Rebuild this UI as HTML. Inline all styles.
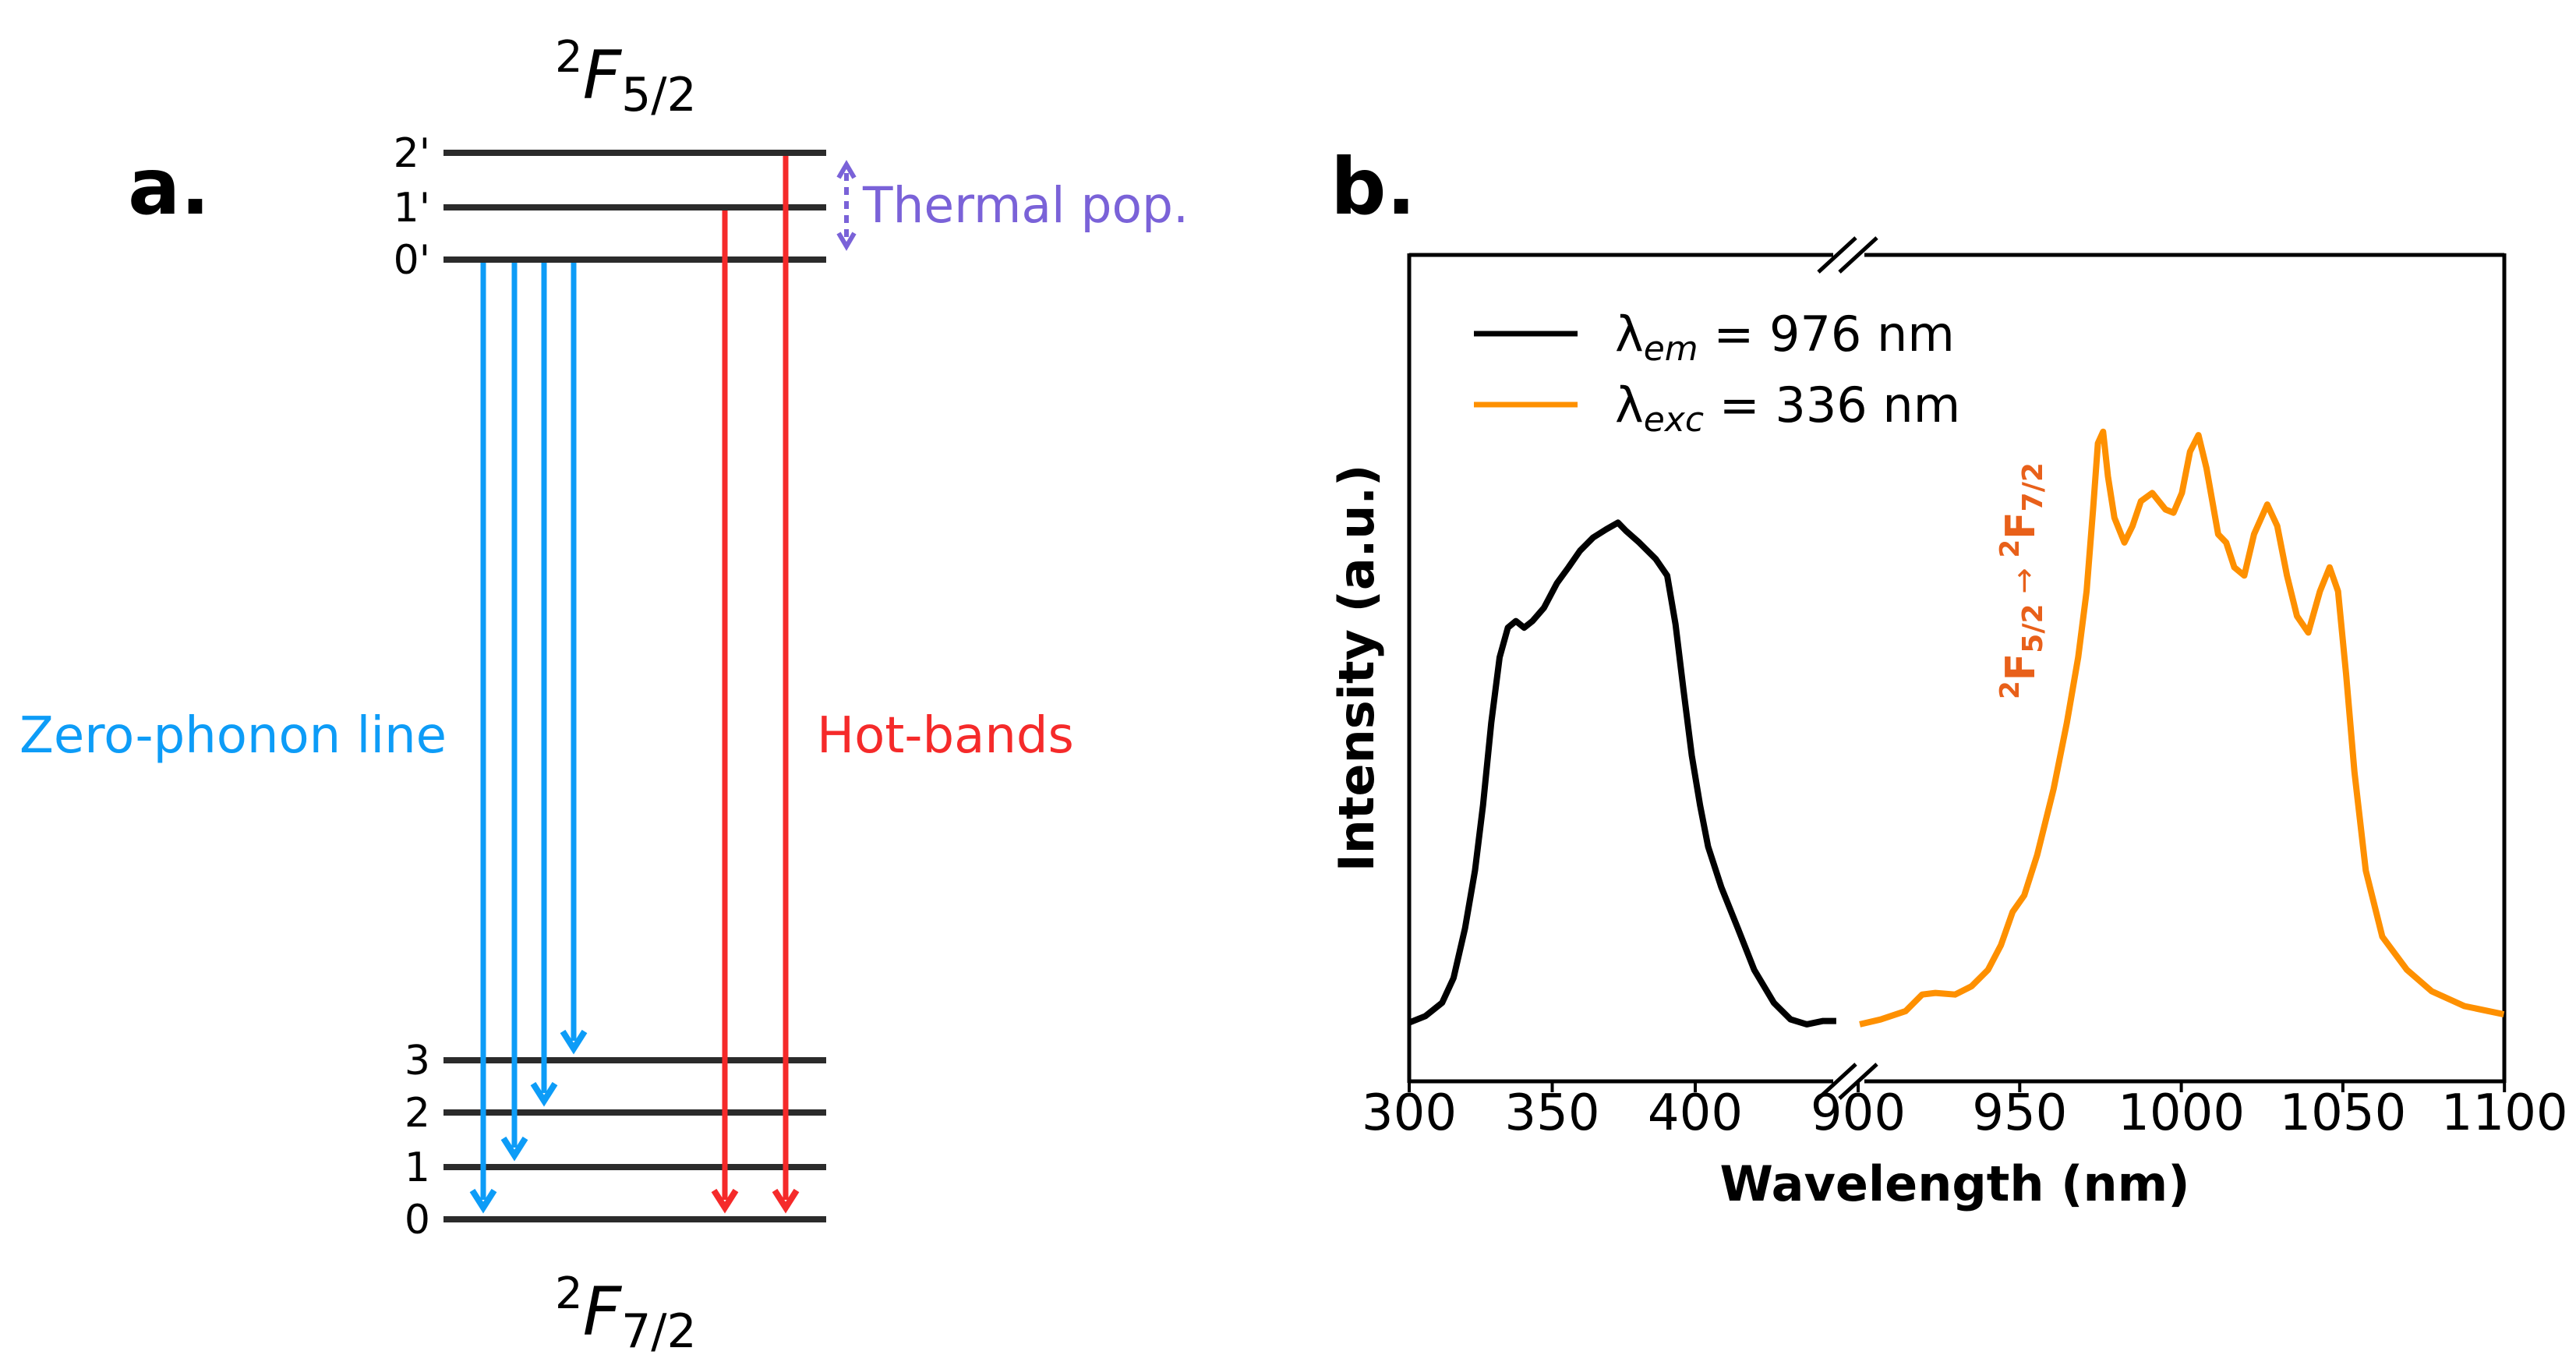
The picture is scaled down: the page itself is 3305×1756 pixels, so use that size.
<!DOCTYPE html>
<html><head><meta charset="utf-8"><style>
html,body{margin:0;padding:0;background:#fff}
svg{display:block}
text{font-family:"DejaVu Sans","Liberation Sans",sans-serif}
</style></head><body>
<svg id="fig" width="3305" height="1756" viewBox="0 0 3305 1756" xmlns="http://www.w3.org/2000/svg">
<g id="panelA">
  <text x="164" y="274" font-size="100" font-weight="bold">a.</text>
  <text x="712" y="126" font-size="86" font-style="italic"><tspan font-size="56" dy="-34" font-style="normal">2</tspan><tspan dy="34">F</tspan><tspan font-size="60" dy="16" font-style="normal">5/2</tspan></text>
  <text x="712" y="1712" font-size="86" font-style="italic"><tspan font-size="56" dy="-34" font-style="normal">2</tspan><tspan dy="34">F</tspan><tspan font-size="60" dy="16" font-style="normal">7/2</tspan></text>
  <text x="25" y="965" font-size="64" fill="#0d9cf7">Zero-phonon line</text>
  <text x="1048" y="965" font-size="64" fill="#f52a2a">Hot-bands</text>
  <text x="1107" y="285" font-size="63" fill="#7a62d8">Thermal pop.</text>
</g>
<g id="panelB">
  <text x="1707" y="274" font-size="100" font-weight="bold">b.</text>
  <text transform="translate(1762,857) rotate(-90)" text-anchor="middle" font-size="62" font-weight="bold">Intensity (a.u.)</text>
  <text x="2508" y="1540" text-anchor="middle" font-size="62" font-weight="bold">Wavelength (nm)</text>
  <text transform="translate(2610,745) rotate(-90)" text-anchor="middle" font-size="52" font-weight="bold" fill="#e8601a"><tspan font-size="34" dy="-20">2</tspan><tspan dy="20">F</tspan><tspan font-size="36" dy="10">5/2</tspan><tspan dy="-10" font-weight="normal" font-size="40"> → </tspan><tspan font-size="34" dy="-20">2</tspan><tspan dy="20">F</tspan><tspan font-size="36" dy="10">7/2</tspan></text>
  <line x1="1891" y1="428" x2="2024" y2="428" stroke="#000" stroke-width="7"/>
  <line x1="1891" y1="519" x2="2024" y2="519" stroke="#fe9000" stroke-width="7"/>
  <text x="2072" y="450" font-size="62">λ<tspan font-size="44" font-style="italic" dy="12">em</tspan><tspan dy="-12"> = 976 nm</tspan></text>
  <text x="2072" y="541" font-size="62">λ<tspan font-size="44" font-style="italic" dy="12">exc</tspan><tspan dy="-12"> = 336 nm</tspan></text>
</g>
</svg>
<script>
const levelLabels = ["0","1","2","3","0'","1'","2'"];
const levelY = [1564,1497,1427,1360,333,266,196];
const zplTargets = [0,1,2,3];
const hotSources = [5,6];

const emNm = [300,305.7,311.5,315.5,319.5,323,325.8,328.7,331.6,334.5,337.3,340.2,343.1,347.1,351.7,355.7,359.7,364.3,368.9,373,375.8,380.4,386.2,390.2,393.1,395.9,398.8,401.7,404.5,409.1,414.9,420.6,427.5,433.3,439,444.7,449.3];
const emInt = [0.071,0.079,0.095,0.125,0.185,0.255,0.334,0.434,0.513,0.549,0.557,0.549,0.557,0.573,0.603,0.622,0.642,0.658,0.668,0.676,0.666,0.652,0.632,0.612,0.553,0.473,0.394,0.334,0.284,0.235,0.185,0.135,0.095,0.075,0.069,0.073,0.073];
const excNm = [900.5,907.1,914.7,919.8,923.9,930,935.1,940.2,944.2,947.8,951.4,955.4,960.5,964.6,968.1,970.7,972.7,974.2,975.8,977.3,979.3,982.4,984.9,987.5,991,995.1,997.6,1000.2,1002.7,1005.3,1007.8,1011.4,1013.9,1016.4,1019.5,1022.5,1026.6,1029.7,1032.7,1035.8,1039.3,1042.9,1045.9,1048.5,1051,1053.6,1057.1,1062.2,1069.8,1077.5,1087.6,1099.8];
const excInt = [0.069,0.075,0.085,0.105,0.107,0.105,0.115,0.135,0.165,0.205,0.225,0.274,0.354,0.434,0.513,0.593,0.692,0.772,0.786,0.732,0.682,0.652,0.672,0.702,0.712,0.692,0.688,0.712,0.762,0.782,0.742,0.662,0.652,0.622,0.612,0.662,0.698,0.672,0.612,0.563,0.543,0.593,0.622,0.593,0.493,0.374,0.255,0.175,0.135,0.109,0.091,0.081];
const leftTicks = [300,350,400];
const rightTicks = [900,950,1000,1050,1100];

(function(){
const NS="http://www.w3.org/2000/svg";
const svg=document.getElementById('fig');
const gA=document.getElementById('panelA');
const gB=document.getElementById('panelB');
function mk(tag,attrs,parent){const e=document.createElementNS(NS,tag);for(const k in attrs)e.setAttribute(k,attrs[k]);(parent||svg).appendChild(e);return e;}

levelY.forEach((y,i)=>{
  const l=mk('line',{x1:569,y1:y,x2:1060,y2:y,stroke:'#2b2b2b','stroke-width':8},gA);
  
  
  const t=mk('text',{x:552,y:y+18,'font-size':52,'text-anchor':'end'},gA);
  t.textContent=levelLabels[i];
  
  
});
function arrow(x,y1,y2,color,name){
  const g=mk('g',{},gA);
  
  
  mk('line',{x1:x,y1:y1,x2:x,y2:y2-10,stroke:color,'stroke-width':7},g);
  mk('path',{d:`M${x-14},${y2-22} L${x},${y2} L${x+14},${y2-22}`,fill:'none',stroke:color,'stroke-width':8},g);
}
const zplX=[620,660,698,736];
zplTargets.forEach((lv,i)=>{arrow(zplX[i],337,levelY[lv]-15,'#0d9cf7','zpl-arrow-'+i);});
const hotX=[930,1008];
hotSources.forEach((lv,i)=>{arrow(hotX[i],levelY[lv]+4,levelY[0]-15,'#f52a2a','hot-band-arrow-'+i);});
const th=mk('g',{},gA);


mk('line',{x1:1086,y1:222,x2:1086,y2:305,stroke:'#7a62d8','stroke-width':6,'stroke-dasharray':'10,8'},th);
mk('path',{d:'M1076,228 L1086,211 L1096,228',fill:'none',stroke:'#7a62d8','stroke-width':6},th);
mk('path',{d:'M1076,299 L1086,316 L1096,299',fill:'none',stroke:'#7a62d8','stroke-width':6},th);

const axTop=327,axBot=1387;
const xL=nm=>1808+(nm-300)*3.67;
const xR=nm=>2384+(nm-900)*4.146;
const yS=v=>axBot-v*(axBot-axTop);
const ax=mk('g',{},gB);


[[1808,2352],[2392,3213]].forEach(s=>{
  mk('line',{x1:s[0],y1:axTop,x2:s[1],y2:axTop,stroke:'#000','stroke-width':5},ax);
  mk('line',{x1:s[0],y1:axBot,x2:s[1],y2:axBot,stroke:'#000','stroke-width':5},ax);
});
mk('line',{x1:1808,y1:axTop-2,x2:1808,y2:axBot+2,stroke:'#000','stroke-width':5},ax);
mk('line',{x1:3213,y1:axTop-2,x2:3213,y2:axBot+2,stroke:'#000','stroke-width':5},ax);
[axTop,axBot].forEach(y=>{[2345,2372].forEach(x=>{
  mk('line',{x1:x-12,y1:y+22,x2:x+36,y2:y-22,stroke:'#000','stroke-width':5},ax);
});});
function tick(x,label){
  const l=mk('line',{x1:x,y1:axBot,x2:x,y2:axBot+14,stroke:'#000','stroke-width':4},gB);
  
  
  const t=mk('text',{x:x,y:axBot+62,'font-size':64,'text-anchor':'middle'},gB);
  t.textContent=label;
  
  
}
leftTicks.forEach(v=>tick(xL(v),v));
rightTicks.forEach(v=>tick(xR(v),v));
function series(xs,ys,fx,color,name){
  const d=xs.map((n,i)=>(i?'L':'M')+fx(n).toFixed(1)+','+yS(ys[i]).toFixed(1)).join(' ');
  const p=mk('path',{d:d,fill:'none',stroke:color,'stroke-width':8,'stroke-linejoin':'round'},gB);
  
  
}
series(emNm,emInt,xL,'#000','emission-monitored-excitation-line');
series(excNm,excInt,xR,'#fe9000','excitation-emission-line');
})();
</script>
</body></html>
